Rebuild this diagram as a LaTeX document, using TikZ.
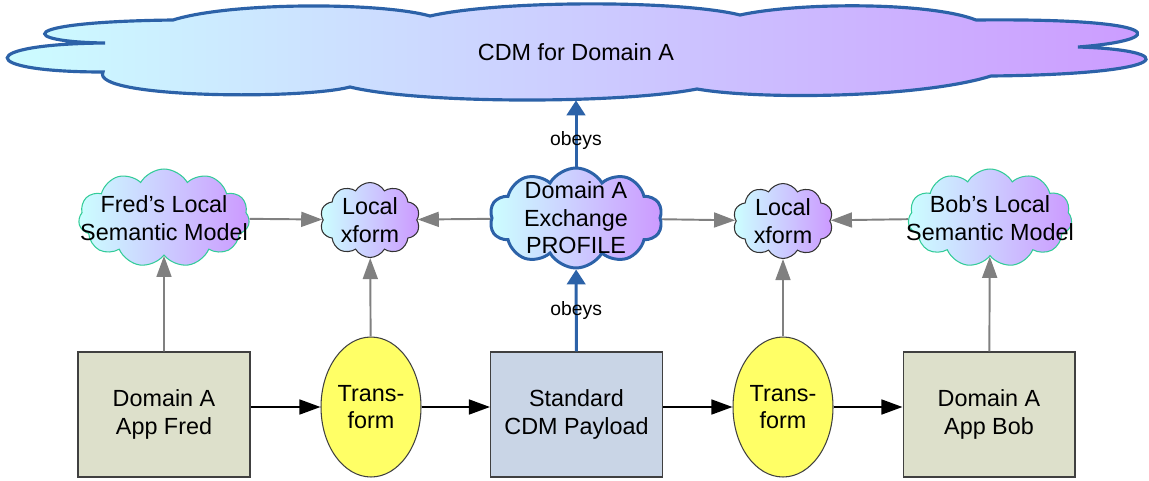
\documentclass[tikz,border=0pt]{standalone}
\usepackage{fontspec}
\setmainfont{Liberation Sans}
\usetikzlibrary{arrows.meta,shapes.geometric,shapes.symbols}
\definecolor{cloudL}{RGB}{204,255,255}
\definecolor{cloudR}{RGB}{204,153,255}
\definecolor{cdmblue}{RGB}{44,98,168}
\definecolor{cloudgreen}{RGB}{51,204,153}
\definecolor{appfill}{RGB}{221,224,203}
\definecolor{payfill}{RGB}{201,213,230}
\definecolor{xfyellow}{RGB}{255,255,102}
\definecolor{linegray}{RGB}{128,128,128}

\begin{document}
\begin{tikzpicture}[x=0.02cm, y=-0.02cm,
    every node/.style={font=\fontsize{13.3}{15.6}\selectfont, align=center},
    puff/.style={cloud, cloud ignores aspect, cloud puff arc=120, inner sep=0pt,
      left color=cloudL, right color=cloudR},
    local/.style={puff, cloud puffs=11, draw=cloudgreen, line width=0.6pt,
      minimum width=3.42cm, minimum height=1.96cm},
    xform/.style={puff, cloud puffs=10, draw=black!80, line width=0.6pt,
      minimum width=2cm, minimum height=1.5cm},
    app/.style={rectangle, draw=black!75, line width=0.6pt,
      minimum width=3.44cm, minimum height=2.5cm},
    trans/.style={ellipse, draw=black!75, fill=xfyellow, line width=0.6pt,
      inner sep=0pt, minimum width=2cm, minimum height=2.8cm},
    gray arrow/.style={draw=linegray, line width=1.1pt, -{Triangle[length=12pt,width=8.5pt]}},
    flow/.style={draw=black, line width=1.1pt, -{Triangle[length=12pt,width=8.5pt]}},
    obey/.style={draw=cdmblue, line width=1.7pt, -{Triangle[length=8.5pt,width=10.5pt]}},
    obeylabel/.style={font=\fontsize{11}{13}\selectfont}]
    \useasboundingbox (0,0) rectangle (1149,480);
    \draw[cdmblue, line width=1.8pt, left color=cloudL, right color=cloudR]
      (105,43) .. controls (20,42) and (10,22) .. (173,20)
      .. controls (230,2) and (380,2) .. (430,16)
      .. controls (500,0) and (680,0) .. (740,15)
      .. controls (800,2) and (930,2) .. (976,20)
      .. controls (1170,18) and (1170,40) .. (1078,47)
      .. controls (1180,50) and (1180,74) .. (991,76)
      .. controls (920,98) and (760,100) .. (697,89)
      .. controls (620,104) and (420,104) .. (350,87)
      .. controls (300,100) and (90,98) .. (103,72)
      .. controls (-25,72) and (-25,44) .. (105,43) -- cycle;
    \node[minimum height=1.92cm] (cdm) at (576,52) {CDM for Domain A};
    \node[local, label=center:{Fred’s Local\\Semantic Model}] (fred) at (164,218) {};
    \node[xform, label=center:{Local\\xform}] (lxl) at (370,220) {};
    \node[puff, cloud puffs=10, draw=cdmblue, line width=1.7pt, minimum width=3.46cm,
      minimum height=2cm, label=center:{Domain A\\Exchange\\PROFILE}] (profile) at (576,218) {};
    \node[xform, label=center:{Local\\xform}] (lxr) at (783,221) {};
    \node[local, minimum width=3.28cm, label=center:{Bob’s Local\\Semantic Model}] (bob) at (990,218) {};
    \node[app, fill=appfill] (appfred) at (164,414.5) {Domain A\\App Fred};
    \node[trans] (tr1) at (371,407) {Trans-\\form};
    \node[app, fill=payfill] (payload) at (576.5,414.5) {Standard\\CDM Payload};
    \node[trans] (tr2) at (783,407) {Trans-\\form};
    \node[app, fill=appfill] (appbob) at (989,414.5) {Domain A\\App Bob};
    \draw[gray arrow] (fred) -- (lxl);
    \draw[gray arrow] (profile) -- (lxl);
    \draw[gray arrow] (profile) -- (lxr);
    \draw[gray arrow] (bob) -- (lxr);
    \draw[gray arrow] (appfred) -- (fred);
    \draw[gray arrow] (tr1) -- (lxl);
    \draw[gray arrow] (tr2) -- (lxr);
    \draw[gray arrow] (appbob) -- (bob);
    \draw[obey] (payload) -- node[obeylabel] {obeys} (profile);
    \draw[obey] (profile) -- node[obeylabel, pos=0.4] {obeys} (cdm.south);
    \draw[flow] (appfred.east |- tr1) -- (tr1);
    \draw[flow] (tr1) -- (payload.west |- tr1);
    \draw[flow] (payload.east |- tr2) -- (tr2);
    \draw[flow] (tr2) -- (appbob.west |- tr2);
\end{tikzpicture}
\end{document}
